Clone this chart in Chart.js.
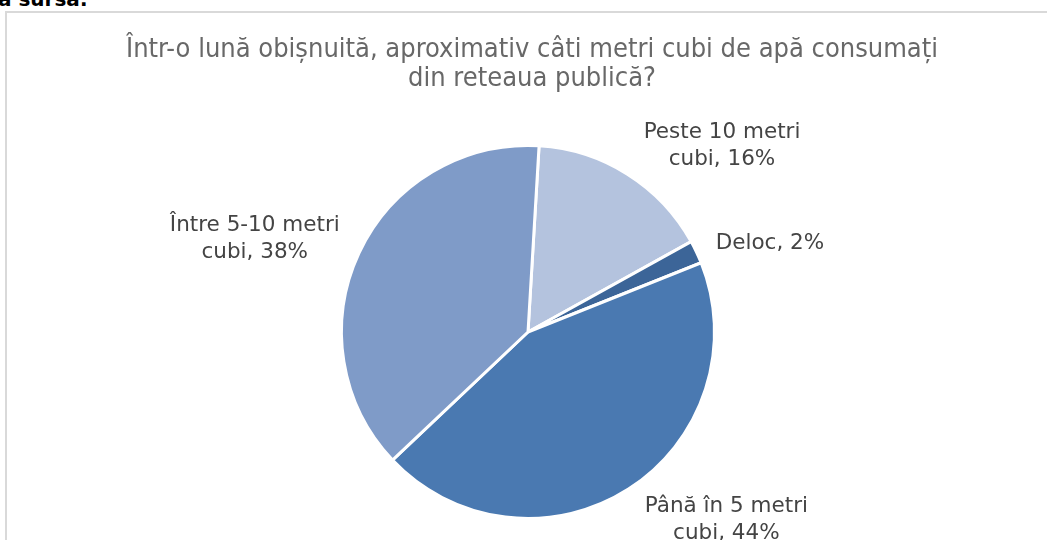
<!DOCTYPE html>
<html>
<head>
<meta charset="utf-8">
<script src="https://cdn.jsdelivr.net/npm/chart.js@4"></script>
<style>
  html, body { margin: 0; padding: 0; background: #fff; overflow: hidden; }
  #wrap { position: relative; width: 1047px; height: 540px; }
  #frame { position: absolute; left: 5px; top: 11px; right: 0; bottom: 0; border-top: 2px solid #d9d9d9; border-left: 2px solid #d9d9d9; }
  #src { position: absolute; left: -2px; top: -13px; font: bold 20px "DejaVu Sans", sans-serif; color: #000; }
  canvas { position: absolute; left: 0; top: 0; }
</style>
</head>
<body>
<div id="wrap">
  <div id="src">a sursa:</div>
  <div id="frame"></div>
  <canvas id="pie" width="1047" height="540"></canvas>
</div>
<script>
// DATA
const titleLines = ['Într-o lună obișnuită, aproximativ câti metri cubi de apă consumați', 'din reteaua publică?'];
const categories = [['Peste 10 metri', 'cubi'], ['Deloc'], ['Până în 5 metri', 'cubi'], ['Între 5-10 metri', 'cubi']];
const values = [16, 2, 44, 38];
const colors = ['#b4c3de', '#3c6598', '#4a79b1', '#7f9bc8'];

// TITLE + DATA LABELS
const labelPlugin = {
  id: 'labels',
  afterDraw(chart) {
    const ctx = chart.ctx;
    ctx.save();
    ctx.textAlign = 'center';
    ctx.textBaseline = 'alphabetic';
    ctx.fillStyle = '#686868';
    ctx.font = '27px "DejaVu Sans Condensed", sans-serif';
    titleLines.forEach((t, i) => ctx.fillText(t, 532, 57 + i * 29));

    ctx.font = '21.5px "DejaVu Sans", sans-serif';
    ctx.fillStyle = '#444444';
    const lh = 27;
    chart.getDatasetMeta(0).data.forEach((arc, i) => {
      const lines = categories[i].slice();
      lines[lines.length - 1] += ', ' + values[i] + '%';
      const mid = (arc.startAngle + arc.endAngle) / 2;
      const r = arc.outerRadius + 8;
      const ax = arc.x + Math.cos(mid) * r;
      const ay = arc.y + Math.sin(mid) * r;
      const w = Math.max(...lines.map(l => ctx.measureText(l).width));
      const h = lines.length * lh;
      const sx = Math.max(-1, Math.min(1, Math.cos(mid) / 0.5));
      const sy = Math.max(-1, Math.min(1, Math.sin(mid)));
      const left = ax - w / 2 + sx * (w / 2 + 12);
      const top = ay - h / 2 + sy * h / 2;
      lines.forEach((l, j) => ctx.fillText(l, left + w / 2, top + 20 + j * lh));
    });
    ctx.restore();
  }
};

const ctx = document.getElementById('pie').getContext('2d');
new Chart(ctx, {
  type: 'pie',
  data: {
    labels: categories,
    datasets: [{
      data: values,
      backgroundColor: colors,
      borderColor: '#ffffff',
      borderWidth: 3
    }]
  },
  options: {
    responsive: false,
    animation: false,
    rotation: 3.4,
    layout: { padding: { top: 144, bottom: 20, left: 298, right: 289 } },
    plugins: { legend: { display: false }, tooltip: { enabled: false }, title: { display: false } }
  },
  plugins: [labelPlugin]
});
</script>
</body>
</html>
